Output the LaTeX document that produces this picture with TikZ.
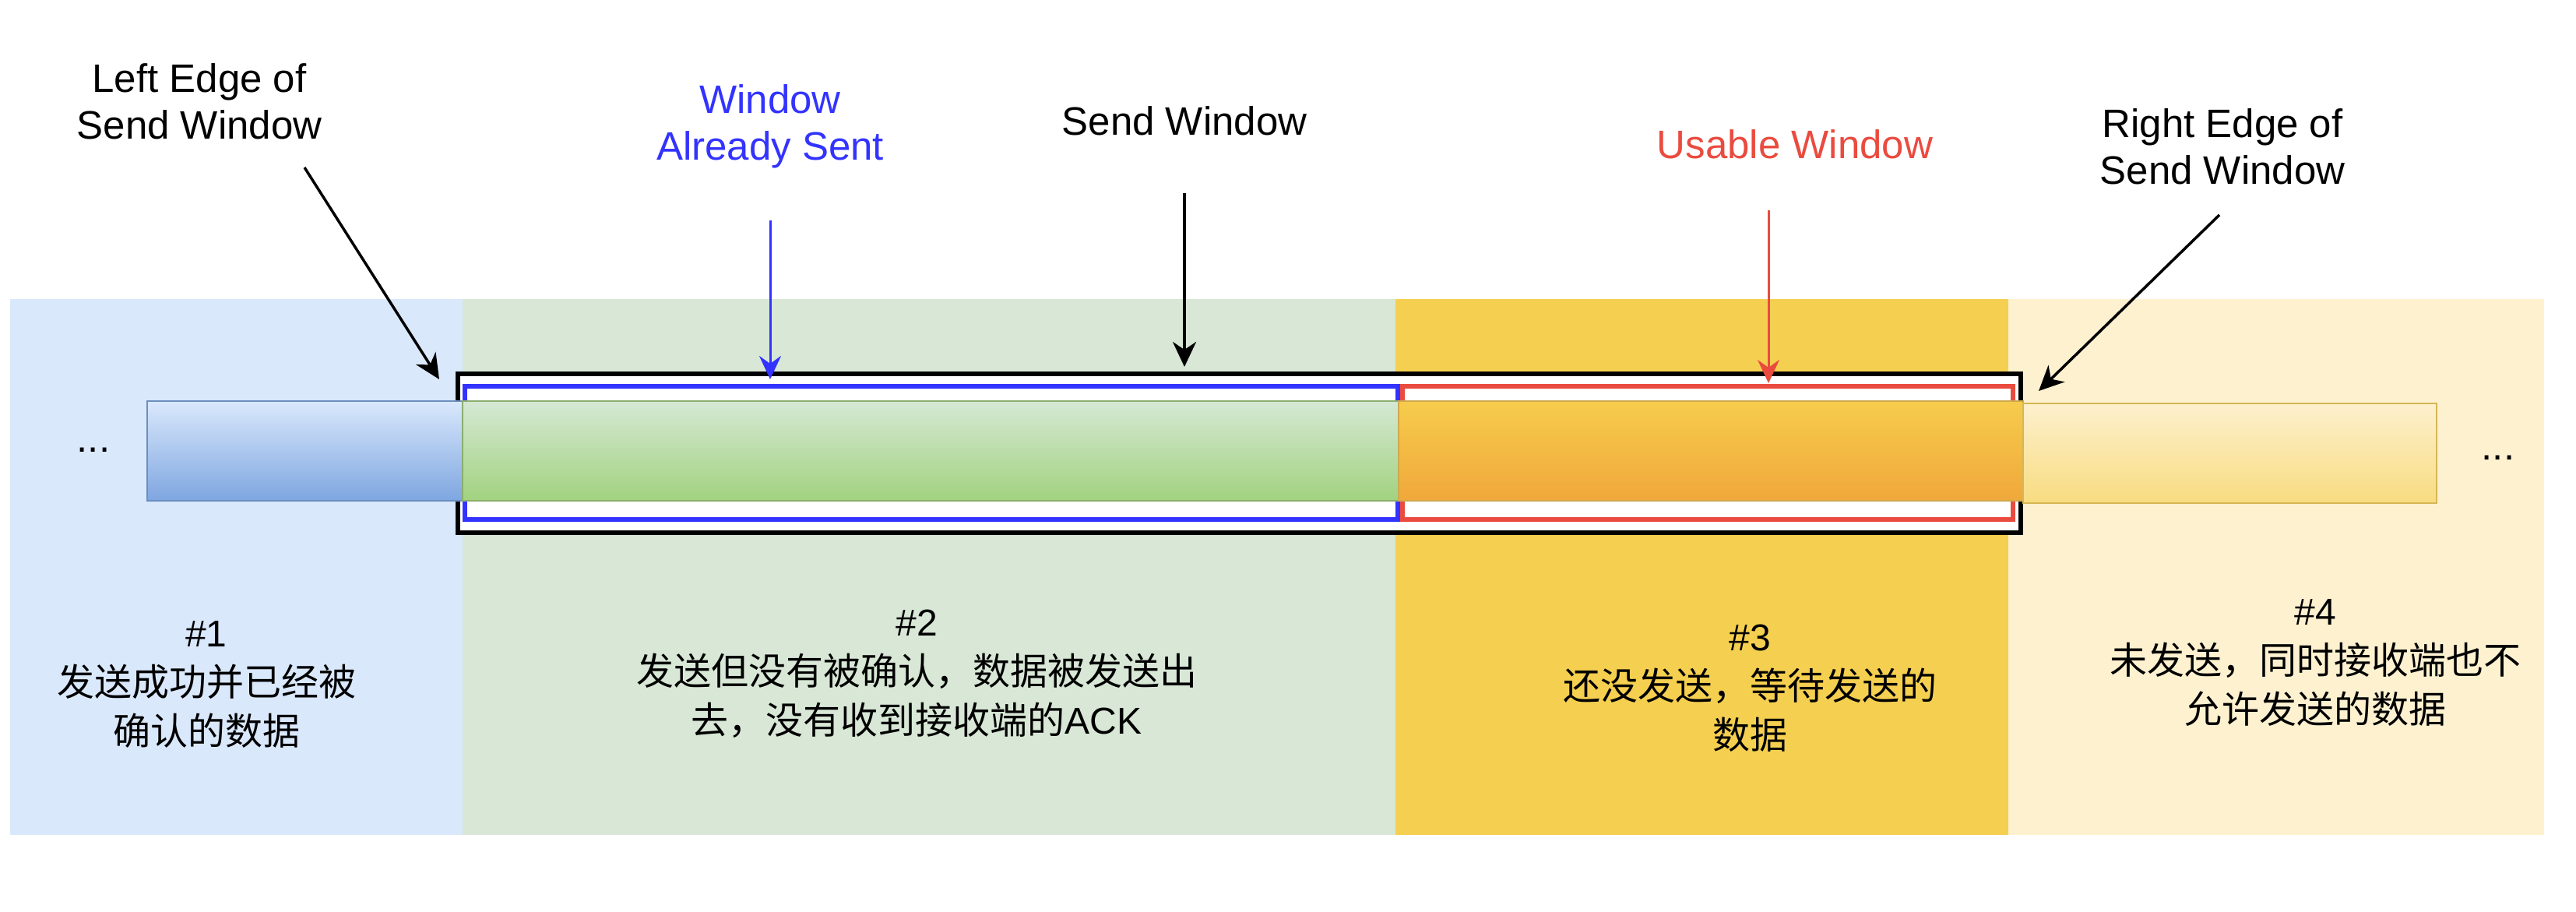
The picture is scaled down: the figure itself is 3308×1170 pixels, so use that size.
\documentclass[tikz,border=0pt]{standalone}
\usepackage{fontspec}
\setmainfont{Liberation Sans}
\newfontfamily\cjk{Noto Sans CJK SC}
\usetikzlibrary{arrows.meta}
\definecolor{bgA}{HTML}{DAE8FC}
\definecolor{bgB}{HTML}{D8E7D6}
\definecolor{bgC}{HTML}{F5CF50}
\definecolor{bgD}{HTML}{FDF1D0}
\definecolor{barAtop}{HTML}{DAE8FC}
\definecolor{barAbot}{HTML}{7EA6E0}
\definecolor{barAline}{HTML}{6C8EBF}
\definecolor{barBtop}{HTML}{D5E8D4}
\definecolor{barBbot}{HTML}{A2D27F}
\definecolor{barBline}{HTML}{8AAE6E}
\definecolor{barCtop}{HTML}{F6CC4C}
\definecolor{barCbot}{HTML}{F0A83B}
\definecolor{barCline}{HTML}{CFA94E}
\definecolor{barDtop}{HTML}{FDF0CE}
\definecolor{barDbot}{HTML}{F8DC80}
\definecolor{barDline}{HTML}{D6B656}
\definecolor{winblue}{HTML}{3333FF}
\definecolor{winred}{HTML}{EA4B3F}
\tikzset{
  lbl/.style={align=center, inner sep=0pt, font=\fontsize{51}{60}\selectfont},
  cjklbl/.style={align=center, inner sep=0pt, font=\fontsize{48}{63}\selectfont},
  blackarrow/.style={line width=3.5pt, -{Stealth[length=32pt,width=30pt,inset=10pt]}},
  bluearrow/.style={line width=3pt, draw=winblue, fill=winblue, -{Stealth[length=30pt,width=28pt,inset=10pt]}},
  redarrow/.style={line width=3pt, draw=winred, fill=winred, -{Stealth[length=30pt,width=28pt,inset=10pt]}},
  winbox/.style={line width=6pt, fill=white},
  barbox/.style={line width=2pt},
}
\begin{document}
\begin{tikzpicture}[x=1pt,y=-1pt]
\useasboundingbox (0,0) rectangle (3308,1170);
% background regions
\fill[bgA] (13,384) rectangle (594,1072);
\fill[bgB] (594,384) rectangle (1792,1072);
\fill[bgC] (1792,384) rectangle (2579,1072);
\fill[bgD] (2579,384) rectangle (3267,1072);
% window boxes
\draw[winbox, draw=black] (588,480) rectangle (2595,684);
\draw[winbox, draw=winblue] (597,496) rectangle (1795,667);
\draw[winbox, draw=winred] (1801,496) rectangle (2585,667);
% bars
\shade[top color=barAtop, bottom color=barAbot, draw=barAline, barbox] (189,515) rectangle (594,643);
\shade[top color=barBtop, bottom color=barBbot, draw=barBline, barbox] (594,515) rectangle (1796,643);
\shade[top color=barCtop, bottom color=barCbot, draw=barCline, barbox] (1796,515) rectangle (2598,643);
\shade[top color=barDtop, bottom color=barDbot, draw=barDline, barbox] (2598,518) rectangle (3129,646);
% dots
\node[lbl] (dotsL) at (120,578) {...};
\node[lbl] (dotsR) at (3208,588) {...};
% top labels
\node[lbl] (leftedge) at (256,130) {Left Edge of\\Send Window};
\node[lbl, text=winblue] (sent) at (989,162) {Window\\Already Sent};
\node[lbl] (sendwin) at (1521,155) {Send Window};
\node[lbl, text=winred] (usable) at (2305,185) {Usable Window};
\node[lbl] (rightedge) at (2854,188) {Right Edge of\\Send Window};
% arrow endpoints
\coordinate (leA) at (391,215);
\coordinate (leB) at (564,487);
\coordinate (saA) at (989,283);
\coordinate (saB) at (989,487);
\coordinate (swA) at (1521,248);
\coordinate (swB) at (1521,471);
\coordinate (uwA) at (2271,270);
\coordinate (uwB) at (2271,492);
\coordinate (reA) at (2850,276);
\coordinate (reB) at (2618,502);
\draw[blackarrow] (leA) -- (leB);
\draw[bluearrow] (saA) -- (saB);
\draw[blackarrow] (swA) -- (swB);
\draw[redarrow] (uwA) -- (uwB);
\draw[blackarrow] (reA) -- (reB);
% bottom descriptions
\node[cjklbl] (d1) at (265,879) {\#1\\{\cjk 发送成功并已经被}\\{\cjk 确认的数据}};
\node[cjklbl] (d2) at (1177,865) {\#2\\{\cjk 发送但没有被确认，数据被发送出}\\{\cjk 去，没有收到接收端的}ACK};
\node[cjklbl] (d3) at (2247,884) {\#3\\{\cjk 还没发送，等待发送的}\\{\cjk 数据}};
\node[cjklbl] (d4) at (2973,851) {\#4\\{\cjk 未发送，同时接收端也不}\\{\cjk 允许发送的数据}};
\end{tikzpicture}
\end{document}
